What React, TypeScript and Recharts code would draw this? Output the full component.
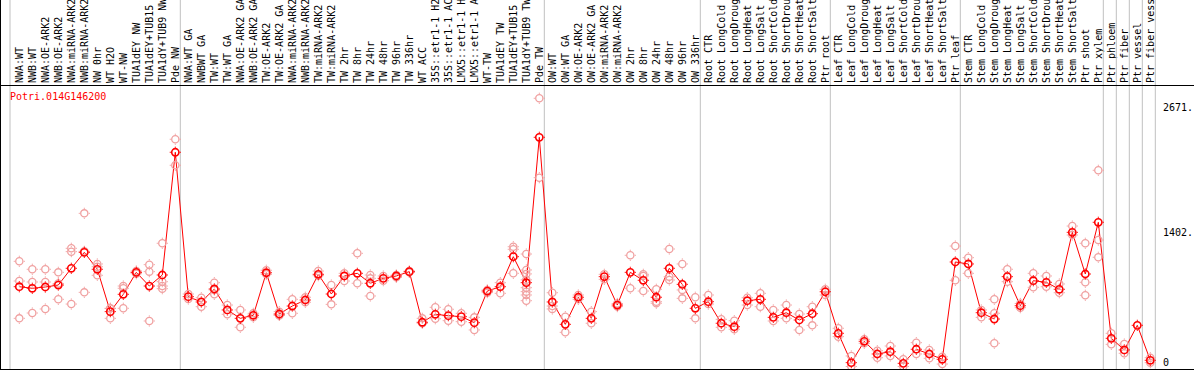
import { ComposedChart, Line, Scatter, XAxis, YAxis, ReferenceLine } from "recharts";

const categories = [
  "NWA:WT", "NWB:WT", "NWA:OE-ARK2", "NWB:OE-ARK2", "NWA:miRNA-ARK2", "NWB:miRNA-ARK2",
  "NW 0hr", "WT H2O", "WT-NW", "TUA1dEY NW", "TUA1dEY+TUB15 NW", "TUA1dY+TUB9 NW", "Pde NW",
  "NWA:WT GA", "NWBWT GA", "TW:WT", "TW:WT GA", "NWA:OE-ARK2 GA", "NWB:OE-ARK2 GA",
  "TW:OE-ARK2", "TW:OE-ARK2 GA", "NWA:miRNA-ARK2 GA", "NWB:miRNA-ARK2 GA", "TW:miRNA-ARK2",
  "TW:miRNA-ARK2", "TW 2hr", "TW 8hr", "TW 24hr", "TW 48hr", "TW 96hr", "TW 336hr", "WT ACC",
  "35S::etr1-1 H2O", "35S::etr1-1 ACC", "LMX5::etr1-1 H2O", "LMX5::etr1-1 ACC", "WT-TW",
  "TUA1dEY TW", "TUA1dEY+TUB15 TW", "TUA1dY+TUB9 TW", "Pde TW",
  "OW:WT", "OW:WT GA", "OW:OE-ARK2", "OW:OE-ARK2 GA", "OW:miRNA-ARK2", "OW:miRNA-ARK2",
  "OW 2hr", "OW 8hr", "OW 24hr", "OW 48hr", "OW 96hr", "OW 336hr",
  "Root CTR", "Root LongCold", "Root LongDrought", "Root LongHeat", "Root LongSalt",
  "Root ShortCold", "Root ShortDrought", "Root ShortHeat", "Root ShortSalt", "Ptr root",
  "Leaf CTR", "Leaf LongCold", "Leaf LongDrought", "Leaf LongHeat", "Leaf LongSalt",
  "Leaf ShortCold", "Leaf ShortDrought", "Leaf ShortHeat", "Leaf ShortSalt", "Ptr leaf",
  "Stem CTR", "Stem LongCold", "Stem LongDrought", "Stem LongHeat", "Stem LongSalt",
  "Stem ShortCold", "Stem ShortDrought", "Stem ShortHeat", "Stem ShortSalt", "Ptr shoot",
  "Ptr xylem", "Ptr phloem", "Ptr fiber", "Ptr vessel", "Ptr fiber vessel",
];

const meanValues = [
  810, 794, 807, 827, 997, 1159, 987, 557, 733, 956, 817, 929, 2175,
  709, 655, 787, 574, 489, 520, 952, 533, 614, 675, 936, 736, 919, 946, 845, 895, 919, 963,
  449, 530, 516, 506, 445, 766, 810, 1115, 851, 2327,
  655, 428, 703, 489, 912, 624, 956, 875, 703, 997, 834, 591,
  658, 439, 404, 668, 682, 499, 546, 472, 536, 759,
  337, 39, 256, 127, 150, 32, 175, 127, 73, 1061,
  1041, 546, 482, 912, 617, 871, 855, 784, 1362, 939, 1464,
  286, 168, 418, 63,
];

const replicateValues: number[][] = [
  [1068, 868, 489], [987, 858, 543], [987, 858, 584], [956, 843, 682], [1200, 1166, 634],
  [1555, 1169, 753], [1041, 1013, 926], [591, 589, 489], [817, 794, 591], [970, 956, 942],
  [1034, 963, 462], [1251, 861, 817, 790], [2307, 2043],
  [736, 685], [698, 607], [851, 777, 733], [624, 530], [574, 398], [540, 500], [977, 936],
  [557, 523, 519], [682, 540], [703, 652], [969, 922], [827, 631], [946, 868], [1149, 845],
  [929, 895, 716], [919, 871], [929, 905], [970, 956], [489, 439], [601, 485], [581, 465],
  [540, 455], [499, 371], [777, 750], [851, 743], [1216, 1190, 946],
  [1142, 980, 940, 880, 800, 760, 726, 668], [2723, 1917],
  [749, 614, 584], [506, 347], [726, 682], [557, 439], [936, 885], [640, 608], [1129, 794],
  [936, 920, 766], [784, 658, 642], [1193, 912, 878], [1041, 777, 692], [703, 489],
  [726, 634], [479, 398], [465, 378], [698, 624], [743, 607], [574, 462], [624, 489],
  [533, 371], [607, 418], [784, 726],
  [388, 303], [107, 0], [276, 236], [160, 89], [208, 107], [73, 0], [242, 127], [168, 83],
  [99, 25], [1223, 875],
  [1105, 946], [574, 499], [682, 540, 236], [987, 861], [640, 597], [946, 804], [919, 810],
  [838, 749], [1426, 1335], [1251, 855, 723], [1992, 1284, 1109],
  [337, 225], [228, 134], [], [89, 39],
];

// group separators, in category units
const groupBreaks = [-0.715, 12.385, 40.385, 52.385, 62.385, 72.385, 83.385, 84.385, 85.385, 86.385, 87.385];
const yTicks = [0, 1402, 2671];
const geneName = "Potri.014G146200";

const W = 1193;
const H = 369;
const AXIS_W = 35;
const X_MIN = -1.408;
const X_MAX = X_MIN + (W - AXIS_W) / 13;
const Y_MIN = -25.4;
const Y_MAX = 2857.9;
const FONT = "'DejaVu Sans Mono', monospace";

const meanData = categories.map((c, i) => ({ x: i, y: meanValues[i], name: c }));
const repData = replicateValues.flatMap((reps, i) => reps.map((v) => ({ x: i, y: v })));
const xTicks = [...categories.map((_, i) => i), ...groupBreaks];

function Ring(props: { cx?: number; cy?: number; color: string; sw: number }) {
  const { cx, cy, color, sw } = props;
  if (cx == null || cy == null) return null;
  return (
    <g>
      <circle cx={cx} cy={cy} r={3.6} fill="none" stroke={color} strokeWidth={sw} />
      <path
        d={`M${cx} ${cy - 4.4}v-1.2M${cx} ${cy + 4.4}v1.2M${cx - 4.4} ${cy}h-1.2M${cx + 4.4} ${cy}h1.2`}
        stroke={color}
        strokeWidth={1}
      />
    </g>
  );
}

function CategoryTick(props: any) {
  const { x, payload } = props;
  const v = payload.value;
  if (!Number.isInteger(v)) {
    return <line x1={x} x2={x} y1={0} y2={85} stroke="#c0c0c0" strokeWidth={1} />;
  }
  return (
    <text
      x={x}
      y={83}
      dy={3.6}
      transform={`rotate(-90, ${x}, 83)`}
      textAnchor="start"
      fontFamily={FONT}
      fontSize={10}
      fill="#000"
    >
      {categories[v]}
    </text>
  );
}

function ValueTick(props: any) {
  const { y, payload } = props;
  const v = payload.value;
  return (
    <text x={W - 31} y={y} dy={v === 0 ? -0.7 : 7.9} textAnchor="start" fontFamily={FONT} fontSize={10} fill="#000">
      {v === 0 ? "0" : `${v}.`}
    </text>
  );
}

export default function App() {
  return (
    <div
      style={{
        position: "absolute",
        left: 0,
        top: 0,
        width: W,
        height: H,
        borderLeft: "1px solid #000",
        borderBottom: "1px solid #000",
        background: "#fff",
      }}
    >
      <ComposedChart width={W} height={H} margin={{ top: 0, right: 0, bottom: 0, left: 0 }}>
        <XAxis
          type="number"
          dataKey="x"
          orientation="top"
          height={85}
          domain={[X_MIN, X_MAX]}
          allowDataOverflow
          ticks={xTicks}
          interval={0}
          tick={<CategoryTick />}
          tickLine={false}
          axisLine={false}
        />
        <YAxis
          type="number"
          orientation="right"
          width={AXIS_W}
          domain={[Y_MIN, Y_MAX]}
          allowDataOverflow
          ticks={yTicks}
          interval={0}
          tick={<ValueTick />}
          tickLine={false}
          axisLine={false}
        />
        {groupBreaks.map((b) => (
          <ReferenceLine key={b} x={b} stroke="#c0c0c0" strokeWidth={1} />
        ))}
        <ReferenceLine
          segment={[
            { x: X_MIN, y: 1402 },
            { x: 87.8, y: 1402 },
          ]}
          stroke="#c0c0c0"
          strokeWidth={1}
        />
        <Scatter
          data={repData}
          dataKey="y"
          isAnimationActive={false}
          shape={(p: any) => <Ring cx={p.cx} cy={p.cy} color="#f0a0a0" sw={1.3} />}
        />
        <Line
          data={meanData}
          dataKey="y"
          type="linear"
          stroke="#ff0000"
          strokeWidth={1}
          isAnimationActive={false}
          dot={(p: any) => <Ring key={p.index} cx={p.cx} cy={p.cy} color="#ff0000" sw={1.6} />}
          activeDot={false}
        />
      </ComposedChart>
      <div
        style={{
          position: "absolute",
          left: -1,
          top: 85,
          width: W + 1,
          height: 1,
          background: "#000",
        }}
      />
      <div
        style={{
          position: "absolute",
          left: 9,
          top: 91,
          fontFamily: FONT,
          fontSize: 10,
          lineHeight: "12px",
          color: "#ff0000",
        }}
      >
        {geneName}
      </div>
    </div>
  );
}
